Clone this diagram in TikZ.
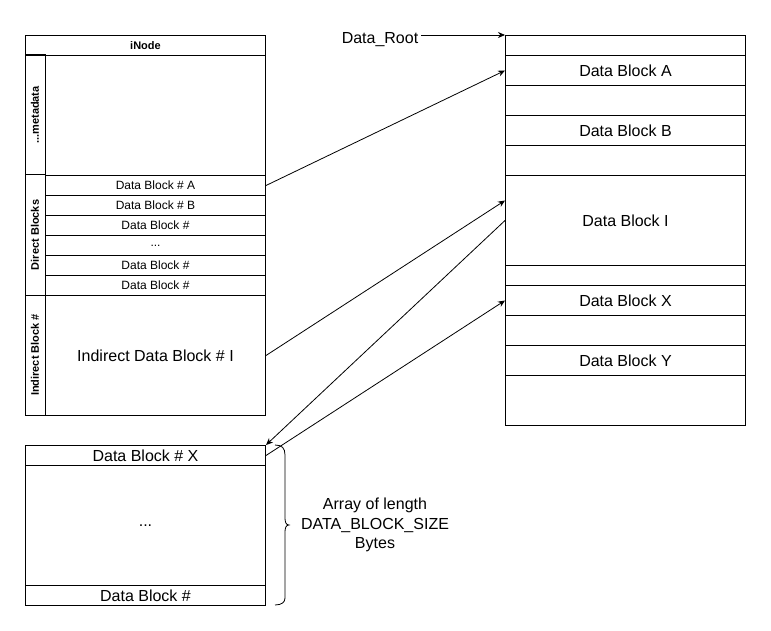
\documentclass[tikz,border=0pt]{standalone}
\usepackage{fontspec}
\setmainfont{Liberation Sans}
\usetikzlibrary{arrows.meta}
\tikzset{
  box/.style 2 args={draw, line width=1pt, inner sep=0pt, anchor=north west,
    minimum width=#1, minimum height=#2, font=\fontsize{16}{19}\selectfont},
  small/.style={font=\fontsize{12}{14}\selectfont},
  vlabel/.style={draw, line width=1pt, inner sep=0pt, rotate=90, minimum height=20pt,
    font=\fontsize{11}{13}\selectfont\bfseries},
  conn/.style={line width=0.8pt, -{Stealth[length=7pt,width=6pt]}},
  plain/.style={line width=0.8pt},
}
\begin{document}
\begin{tikzpicture}[x=1pt,y=-1pt]
\fill[white] (0,0) rectangle (771,631);
\useasboundingbox (0,0) rectangle (771,631);

% iNode
\node[box={240pt}{20pt}, font=\fontsize{11}{13}\selectfont\bfseries] (hdr) at (25,35) {iNode};
\node[box={220pt}{120pt}] (meta) at (45,55) {};
\node[vlabel, minimum width=120pt] (lmeta) at (35,115) {...metadata};
\node[box={220pt}{20pt}, small] (dA) at (45,175) {Data Block \# A};
\node[box={220pt}{20pt}, small] (dB) at (45,195) {Data Block \# B};
\node[box={220pt}{20pt}, small] (dC) at (45,215) {Data Block \#};
\node[box={220pt}{20pt}, small] (dD) at (45,235) {...};
\node[box={220pt}{20pt}, small] (dE) at (45,255) {Data Block \#};
\node[box={220pt}{20pt}, small] (dF) at (45,275) {Data Block \#};
\node[vlabel, minimum width=120pt] (ldir) at (35,235) {Direct Blocks};
\node[box={220pt}{120pt}] (ind) at (45,295) {Indirect Data Block \# I};
\node[vlabel, minimum width=120pt] (lind) at (35,355) {Indirect Block \#};

% data column
\node[box={240pt}{20pt}] (r0) at (505,35) {};
\node[box={240pt}{30pt}] (rA) at (505,55) {Data Block A};
\node[box={240pt}{30pt}] (r1) at (505,85) {};
\node[box={240pt}{30pt}] (rB) at (505,115) {Data Block B};
\node[box={240pt}{30pt}] (r2) at (505,145) {};
\node[box={240pt}{90pt}] (rI) at (505,175) {Data Block I};
\node[box={240pt}{20pt}] (r3) at (505,265) {};
\node[box={240pt}{30pt}] (rX) at (505,285) {Data Block X};
\node[box={240pt}{30pt}] (r4) at (505,315) {};
\node[box={240pt}{30pt}] (rY) at (505,345) {Data Block Y};
\node[box={240pt}{50pt}] (r5) at (505,375) {};

% array block
\node[box={240pt}{20pt}] (aX) at (25,445) {Data Block \# X};
\node[box={240pt}{120pt}] (aM) at (25,465) {...};
\node[box={240pt}{20pt}] (aL) at (25,585) {Data Block \#};

% brace and its text
\draw[plain] (275,445)
  .. controls (282,445) and (285,448) .. (285,455) -- (285,518)
  .. controls (285,522) and (286,525) .. (289,525)
  .. controls (286,525) and (285,528) .. (285,532) -- (285,598)
  .. controls (285,602) and (282,605) .. (275,605);
\node[font=\fontsize{16}{19.5}\selectfont, align=center] (arr) at (375,525)
  {Array of length\\DATA\_BLOCK\_SIZE\\Bytes};

% root label
\node[font=\fontsize{16}{19}\selectfont, inner sep=3pt] (root) at (380,40) {Data\_Root};

% connectors
\draw[conn] (root.east |- r0.north west) -- (r0.north west);
\draw[conn] (dA.east) -- (rA.west);
\draw[conn] (ind.east) -- ([yshift=20pt]rI.west);
\draw[conn] (rI.west) -- (aX.north east);
\draw[conn] (aX.east) -- (rX.west);
\end{tikzpicture}
\end{document}
